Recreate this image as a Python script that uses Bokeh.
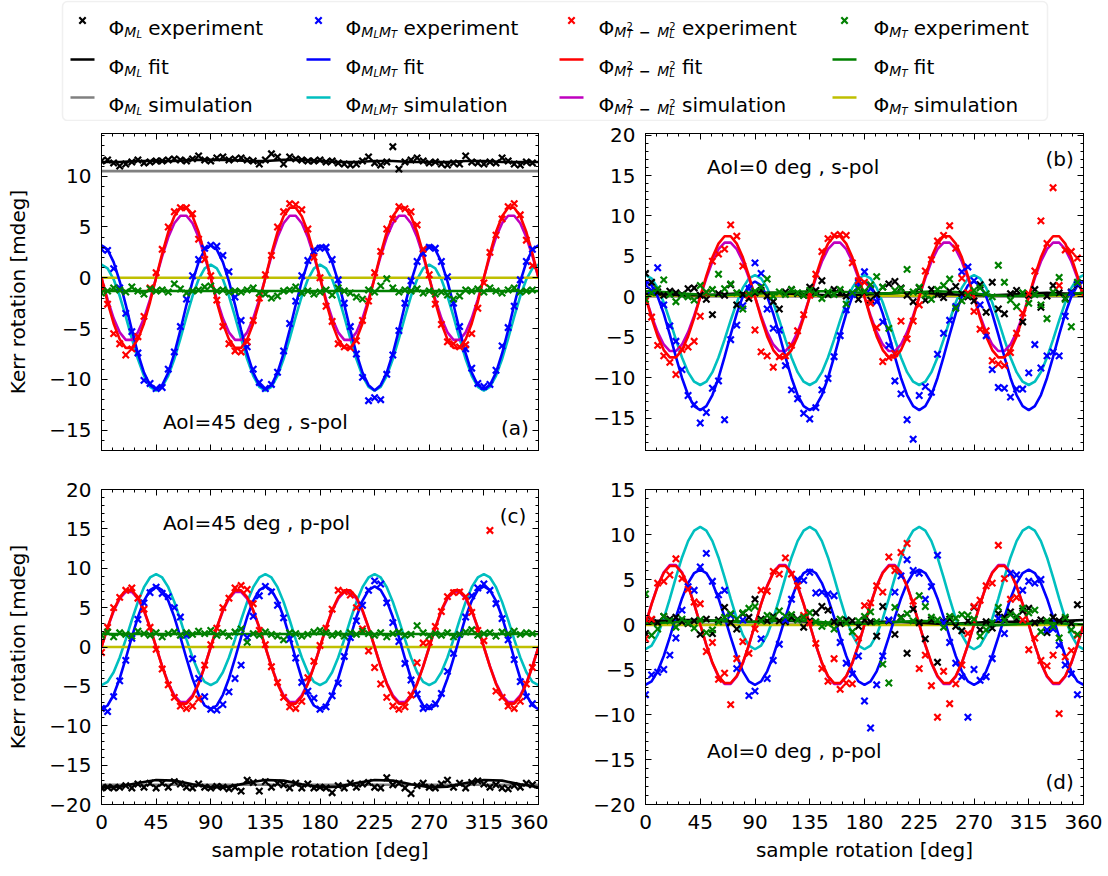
from bokeh.plotting import figure
from bokeh.models import Range1d, LinearAxis, FixedTicker, Label, ColumnDataSource, BoxAnnotation
from bokeh.layouts import column, row
from bokeh.embed import file_html
from bokeh.resources import INLINE
from bokeh.core.properties import field, value

FONT = "DejaVu Sans"

# ---------------- data ----------------
ANG_EXP = list(range(0, 360, 5))      # measured sample rotations
ANG_FIT = list(range(0, 365, 5))      # curve sampling
ANG_COARSE = list(range(0, 375, 15))  # slowly varying curves
ANG_FLAT = [0, 360]

SERIES = ["ML", "MLMT", "M2", "MT"]
EXP_COLORS = ["#000000", "#0000ff", "#ff0000", "#008000"]
FIT_COLORS = ["#000000", "#0000ff", "#ff0000", "#008000"]
SIM_COLORS = ["#808080", "#00bfbf", "#bf00bf", "#bfbf00"]

# ---- panel (a): AoI=45 deg, s-pol ----
A_ML_EXP = [11.5, 11.6, 11.3, 11.0, 11.2, 11.4, 11.6, 11.3, 11.4, 11.5, 11.5, 11.6, 11.7, 11.6, 11.5, 11.7, 12.0, 11.6,
            11.5, 11.8, 11.9, 11.6, 11.7, 11.8, 11.6, 11.5, 11.2, 11.6, 12.2, 11.9, 11.2, 11.9, 11.7, 11.6, 11.5, 11.5,
            11.6, 11.4, 11.5, 11.3, 11.2, 11.1, 11.2, 11.5, 11.9, 11.3, 11.1, 11.4, 12.9, 10.7, 11.4, 11.6, 11.8, 11.5,
            11.3, 11.4, 11.2, 11.1, 11.3, 11.2, 12.0, 11.4, 11.3, 11.2, 11.4, 11.3, 11.8, 11.5, 11.2, 11.1, 11.4, 11.3]
A_MLMT_EXP = [2.8, 2.7, 0.9, -1.0, -3.5, -5.3, -7.4, -10.1, -10.4, -10.9, -10.8, -9.0, -7.3, -4.8, -2.1, 0.2, 1.8, 2.9,
              3.2, 3.1, 2.2, 0.6, -1.9, -4.2, -6.8, -9.0, -10.3, -10.9, -10.5, -9.3, -7.2, -4.5, -2.3, 0.2, 1.7, 2.6,
              2.9, 3.0, 1.8, -0.2, -2.5, -4.8, -7.5, -9.8, -12.1, -11.8, -12.0, -9.5, -7.6, -5.2, -2.5, -0.3, 1.6, 2.4,
              3.0, 2.9, 1.6, 0.1, -2.5, -4.8, -7.0, -8.9, -10.4, -10.7, -10.5, -9.1, -6.7, -4.9, -2.8, -0.2, 1.6, 2.8]
A_M2_EXP = [-1.0, -2.6, -5.5, -6.5, -7.6, -7.0, -5.8, -3.8, -1.0, 0.5, 2.8, 5.0, 6.5, 6.9, 6.9, 6.3, 3.8, 1.8,
            0.2, -2.2, -4.8, -6.5, -7.2, -7.3, -6.3, -4.2, -2.0, 0.3, 2.2, 5.0, 6.5, 7.3, 7.2, 6.7, 4.8, 2.0,
            0.0, -2.8, -4.3, -6.5, -6.8, -6.9, -6.2, -4.2, -2.3, 0.5, 2.6, 4.8, 5.8, 7.0, 6.8, 6.5, 5.2, 2.8,
            0.3, -2.6, -4.6, -6.3, -6.5, -6.8, -6.6, -5.5, -3.0, -0.5, 2.5, 4.2, 5.8, 7.0, 7.3, 6.2, 3.7, 1.2]
A_MT_EXP = [-1.5, -1.3, -1.0, -1.2, -1.4, -0.9, -1.3, -1.6, -1.1, -1.3, -1.2, -1.4, -0.6, -1.1, -1.5, -1.3, -1.2, -0.9,
            -0.8, -1.3, -1.2, -1.4, -1.3, -1.4, -1.2, -1.0, -1.5, -1.6, -2.0, -1.8, -1.3, -1.2, -0.9, -1.5, -1.3, -1.6,
            -1.4, -1.2, -1.7, -1.0, -1.3, -1.5, -1.9, -2.1, -1.2, -1.4, -0.8, -0.1, -1.0, -1.4, -1.2, -1.3, -1.1, -1.5,
            -1.3, -1.6, -1.4, -1.7, -2.1, -1.8, -1.2, -1.3, -1.1, -1.4, -1.0, -1.3, -1.5, -1.2, -1.0, -1.4, -1.3, -1.2]
A_ML_FIT = [11.4, 11.4, 11.5, 11.5, 11.5, 11.6, 11.6, 11.6, 11.5, 11.5, 11.6, 11.6, 11.5,
            11.4, 11.4, 11.5, 11.5, 11.4, 11.4, 11.4, 11.5, 11.5, 11.4, 11.4, 11.4]
A_ML_SIM = [10.5, 10.5]
A_MLMT_FIT = [3.2, 2.77, 1.54, -0.35, -2.66, -5.14, -7.45, -9.34, -10.57, -11.0, -10.57, -9.34, -7.45, -5.14, -2.66, -0.35, 1.54, 2.77,
              3.2, 2.77, 1.54, -0.35, -2.66, -5.14, -7.45, -9.34, -10.57, -11.0, -10.57, -9.34, -7.45, -5.14, -2.66, -0.35, 1.54, 2.77,
              3.2, 2.77, 1.54, -0.35, -2.66, -5.14, -7.45, -9.34, -10.57, -11.1, -10.57, -9.34, -7.45, -5.14, -2.66, -0.35, 1.54, 2.77,
              3.2, 2.77, 1.54, -0.35, -2.66, -5.14, -7.45, -9.34, -10.57, -11.0, -10.57, -9.34, -7.45, -5.14, -2.66, -0.35, 1.54, 2.77,
              3.2]
A_MLMT_SIM = [1.3, 0.93, -0.15, -1.8, -3.82, -5.98, -8.0, -9.65, -10.73, -11.1, -10.73, -9.65, -8.0, -5.98, -3.82, -1.8, -0.15, 0.93,
              1.3, 0.93, -0.15, -1.8, -3.82, -5.98, -8.0, -9.65, -10.73, -11.1, -10.73, -9.65, -8.0, -5.98, -3.82, -1.8, -0.15, 0.93,
              1.3, 0.93, -0.15, -1.8, -3.82, -5.98, -8.0, -9.65, -10.73, -11.1, -10.73, -9.65, -8.0, -5.98, -3.82, -1.8, -0.15, 0.93,
              1.3, 0.93, -0.15, -1.8, -3.82, -5.98, -8.0, -9.65, -10.73, -11.1, -10.73, -9.65, -8.0, -5.98, -3.82, -1.8, -0.15, 0.93,
              1.3]
A_M2_FIT = [0.0, -2.39, -4.5, -6.06, -6.9, -6.9, -6.06, -4.5, -2.39, 0.0, 2.39, 4.5, 6.06, 6.9, 6.9, 6.06, 4.5, 2.39,
            0.0, -2.39, -4.5, -6.06, -6.9, -6.9, -6.06, -4.5, -2.39, 0.0, 2.39, 4.5, 6.06, 6.9, 6.9, 6.06, 4.5, 2.39,
            0.0, -2.39, -4.5, -6.06, -6.9, -6.9, -6.06, -4.5, -2.39, 0.0, 2.39, 4.5, 6.06, 6.9, 6.9, 6.06, 4.5, 2.39,
            0.0, -2.39, -4.5, -6.06, -6.9, -6.9, -6.06, -4.5, -2.39, 0.0, 2.39, 4.5, 6.06, 6.9, 6.9, 6.06, 4.5, 2.39,
            0.0]
A_M2_SIM = [0.0, -2.12, -3.99, -5.37, -6.11, -6.11, -5.37, -3.99, -2.12, 0.0, 2.12, 3.99, 5.37, 6.11, 6.11, 5.37, 3.99, 2.12,
            0.0, -2.12, -3.99, -5.37, -6.11, -6.11, -5.37, -3.99, -2.12, 0.0, 2.12, 3.99, 5.37, 6.11, 6.11, 5.37, 3.99, 2.12,
            0.0, -2.12, -3.99, -5.37, -6.11, -6.11, -5.37, -3.99, -2.12, 0.0, 2.12, 3.99, 5.37, 6.11, 6.11, 5.37, 3.99, 2.12,
            0.0, -2.12, -3.99, -5.37, -6.11, -6.11, -5.37, -3.99, -2.12, 0.0, 2.12, 3.99, 5.37, 6.11, 6.11, 5.37, 3.99, 2.12,
            0.0]
A_MT_FIT = [-1.3, -1.3]
A_MT_SIM = [0.0, 0.0]

# ---- panel (b): AoI=0 deg, s-pol ----
B_ML_EXP = [2.9, 1.8, 0.6, 0.2, 0.7, 0.5, 0.3, 1.0, 1.1, 0.2, -0.3, -2.2, 0.4, 0.2, 1.5, -1.0, 0.3, -0.2,
            0.5, 0.8, 0.1, -0.6, -1.5, 0.6, 0.9, 0.4, 0.2, 1.2, 0.8, 2.0, 0.3, 0.9, 0.5, 0.1, 0.4, -0.3,
            0.6, -0.4, 0.3, 1.2, 1.6, 1.9, 1.1, 0.2, -0.6, 1.1, -0.4, 0.9, 0.3, -0.1, 0.7, 1.3, 0.4, 0.0,
            -0.5, 1.5, -1.9, 1.8, -1.5, -2.1, 0.4, 0.8, -3.1, 0.2, 0.9, -1.3, 0.1, 1.4, 0.5, -0.2, 0.6, 1.5]
B_MLMT_EXP = [1.5, 0.8, 3.6, -1.0, -3.6, -5.5, -9.0, -12.2, -13.3, -15.6, -14.3, -11.3, -10.4, -15.2, -5.3, -3.5, -1.1, 1.0,
              4.2, 2.9, -1.5, -3.9, -4.1, -8.5, -11.5, -12.6, -14.4, -15.1, -13.7, -11.5, -10.1, -7.4, -4.8, -1.6, 0.3, 1.8,
              3.1, 1.0, -0.6, -3.1, -6.0, -10.4, -12.0, -15.2, -17.6, -12.2, -11.1, -11.8, -7.1, -4.5, -2.9, -1.2, 3.1, 3.7,
              2.0, -1.0, -4.8, -9.0, -11.2, -11.3, -12.4, -11.4, -11.4, -9.4, -5.9, -8.8, -7.3, -6.8, -7.3, -2.4, 0.5, 1.6]
B_M2_EXP = [-0.5, -2.5, -6.0, -7.3, -8.1, -9.6, -6.5, -6.2, -5.5, -2.4, 0.5, 4.4, 5.3, 5.9, 8.9, 7.5, 3.8, 0.2,
            -4.1, -6.8, -7.3, -8.7, -7.4, -7.3, -6.0, -4.2, -2.2, 0.2, 2.8, 5.6, 7.2, 7.6, 7.7, 7.6, 4.2, 2.0,
            1.8, -0.8, -3.8, -8.0, -7.5, -7.0, -3.0, -5.2, -3.0, -1.0, 3.2, 4.6, 6.9, 7.6, 8.8, 6.0, 2.3, 0.5,
            -1.8, -4.0, -4.2, -7.9, -8.3, -8.5, -6.9, -4.5, -2.0, 0.4, 3.2, 9.4, 6.6, 13.5, 1.4, 5.8, 5.6, 4.8]
B_MT_EXP = [-0.3, 0.5, 1.0, 2.1, 0.3, -0.6, 0.2, 0.0, -0.4, 1.4, 0.6, 0.9, 2.8, 1.0, 1.6, 0.5, -1.5, 0.4,
            0.7, 1.2, 2.2, 0.1, 0.6, 0.3, 0.9, 0.5, 0.2, 0.8, 0.4, -0.2, 0.6, 0.3, 0.9, -0.9, 0.5, 1.0,
            0.7, 1.5, 2.5, 1.2, -3.9, 0.8, 1.0, 3.4, 0.6, 1.2, 0.2, -0.3, 0.9, 1.4, 2.2, -1.4, -0.5, 0.2,
            0.8, 1.1, 0.4, 0.0, 3.9, 1.8, -0.4, -1.2, 0.5, -0.8, 0.3, -1.0, -2.7, 0.6, 2.4, -0.3, -3.7, 1.8]
B_ML_FIT = [0.4, 0.3, 0.2, 0.2, 0.3, 0.4, 0.5, 0.5, 0.4, 0.3, 0.2, 0.2, 0.3,
            0.4, 0.5, 0.5, 0.4, 0.3, 0.2, 0.2, 0.3, 0.4, 0.5, 0.4, 0.4]
B_ML_SIM = [0.05, 0.05]
B_MLMT_FIT = [1.9, 1.42, 0.04, -2.08, -4.67, -7.43, -10.03, -12.14, -13.52, -14.0, -13.52, -12.14, -10.03, -7.43, -4.67, -2.08, 0.04, 1.42,
              1.9, 1.42, 0.04, -2.08, -4.67, -7.43, -10.03, -12.14, -13.52, -14.0, -13.52, -12.14, -10.03, -7.43, -4.67, -2.08, 0.04, 1.42,
              1.9, 1.42, 0.04, -2.08, -4.67, -7.43, -10.03, -12.14, -13.52, -14.0, -13.52, -12.14, -10.03, -7.43, -4.67, -2.08, 0.04, 1.42,
              1.9, 1.42, 0.04, -2.08, -4.67, -7.43, -10.03, -12.14, -13.52, -14.0, -13.52, -12.14, -10.03, -7.43, -4.67, -2.08, 0.04, 1.42,
              1.9]
B_MLMT_SIM = [2.7, 2.29, 1.11, -0.7, -2.92, -5.28, -7.5, -9.31, -10.49, -10.9, -10.49, -9.31, -7.5, -5.28, -2.92, -0.7, 1.11, 2.29,
              2.7, 2.29, 1.11, -0.7, -2.92, -5.28, -7.5, -9.31, -10.49, -10.9, -10.49, -9.31, -7.5, -5.28, -2.92, -0.7, 1.11, 2.29,
              2.7, 2.29, 1.11, -0.7, -2.92, -5.28, -7.5, -9.31, -10.49, -10.9, -10.49, -9.31, -7.5, -5.28, -2.92, -0.7, 1.11, 2.29,
              2.7, 2.29, 1.11, -0.7, -2.92, -5.28, -7.5, -9.31, -10.49, -10.9, -10.49, -9.31, -7.5, -5.28, -2.92, -0.7, 1.11, 2.29,
              2.7]
B_M2_FIT = [0.0, -2.6, -4.89, -6.58, -7.49, -7.49, -6.58, -4.89, -2.6, 0.0, 2.6, 4.89, 6.58, 7.49, 7.49, 6.58, 4.89, 2.6,
            0.0, -2.6, -4.89, -6.58, -7.49, -7.49, -6.58, -4.89, -2.6, 0.0, 2.6, 4.89, 6.58, 7.49, 7.49, 6.58, 4.89, 2.6,
            0.0, -2.6, -4.89, -6.58, -7.49, -7.49, -6.58, -4.89, -2.6, 0.0, 2.6, 4.89, 6.58, 7.49, 7.49, 6.58, 4.89, 2.6,
            0.0, -2.6, -4.89, -6.58, -7.49, -7.49, -6.58, -4.89, -2.6, 0.0, 2.6, 4.89, 6.58, 7.49, 7.49, 6.58, 4.89, 2.6,
            0.0]
B_M2_SIM = [0.0, -2.33, -4.37, -5.89, -6.7, -6.7, -5.89, -4.37, -2.33, 0.0, 2.33, 4.37, 5.89, 6.7, 6.7, 5.89, 4.37, 2.33,
            0.0, -2.33, -4.37, -5.89, -6.7, -6.7, -5.89, -4.37, -2.33, 0.0, 2.33, 4.37, 5.89, 6.7, 6.7, 5.89, 4.37, 2.33,
            0.0, -2.33, -4.37, -5.89, -6.7, -6.7, -5.89, -4.37, -2.33, 0.0, 2.33, 4.37, 5.89, 6.7, 6.7, 5.89, 4.37, 2.33,
            0.0, -2.33, -4.37, -5.89, -6.7, -6.7, -5.89, -4.37, -2.33, 0.0, 2.33, 4.37, 5.89, 6.7, 6.7, 5.89, 4.37, 2.33,
            0.0]
B_MT_FIT = [0.7, 0.6, 0.4, 0.3, 0.2, 0.3, 0.4, 0.5, 0.6, 0.7, 0.7, 0.6, 0.5,
            0.4, 0.5, 0.6, 0.7, 0.6, 0.4, 0.2, 0.1, 0.1, 0.2, 0.3, 0.5]
B_MT_SIM = [0.15, 0.15]

# ---- panel (c): AoI=45 deg, p-pol ----
C_ML_EXP = [-17.9, -17.8, -17.9, -17.8, -17.6, -17.9, -17.4, -17.8, -17.3, -17.9, -17.3, -17.8, -17.1, -17.4, -17.8, -17.9, -17.4, -17.8,
            -17.9, -17.7, -17.8, -18.0, -17.8, -18.3, -16.9, -17.2, -18.3, -17.1, -17.8, -17.3, -17.5, -17.9, -17.3, -17.9, -17.4, -17.9,
            -17.8, -17.9, -18.5, -17.6, -17.9, -17.3, -17.8, -17.4, -17.2, -17.8, -17.9, -16.6, -17.5, -17.3, -17.9, -18.6, -17.6, -17.3,
            -17.8, -17.9, -17.4, -16.9, -17.8, -17.3, -17.9, -17.2, -17.0, -17.4, -17.8, -17.5, -17.9, -18.0, -17.6, -17.8, -17.3, -17.5]
C_MLMT_EXP = [-7.8, -8.2, -6.3, -4.3, -1.7, 1.1, 3.5, 5.6, 6.9, 7.6, 6.8, 6.4, 5.0, 3.8, 1.5, -1.5, -4.0, -6.3,
              -7.9, -8.0, -7.3, -5.7, -4.0, -2.3, 1.2, 3.9, 6.5, 7.7, 7.0, 5.3, 3.7, 1.0, -1.4, -4.5, -5.6, -6.5,
              -7.9, -7.6, -6.2, -4.6, -1.2, 1.2, 3.3, 5.3, 7.2, 8.4, 8.0, 5.6, 3.1, 0.7, -2.1, -4.2, -6.0, -7.8,
              -7.6, -7.2, -5.9, -3.1, -0.8, 1.6, 3.8, 6.5, 7.5, 8.0, 7.2, 5.5, 3.6, 0.9, -1.6, -4.4, -6.3, -7.2]
C_M2_EXP = [-0.7, 2.5, 5.0, 6.3, 7.2, 7.5, 6.2, 4.8, 2.5, -0.3, -2.8, -4.8, -6.4, -7.5, -7.8, -7.5, -6.6, -2.3,
            0.3, 2.4, 5.0, 6.2, 7.5, 7.8, 7.3, 5.5, 2.1, 0.3, -2.5, -4.5, -6.4, -7.6, -7.8, -6.9, -3.9, -1.8,
            0.2, 2.4, 4.8, 7.2, 7.0, 6.6, 5.0, 2.3, -0.5, -2.6, -4.7, -6.4, -7.5, -7.9, -7.6, -6.1, -2.0, 0.5,
            0.6, 2.6, 4.5, 6.4, 6.9, 7.0, 6.4, 4.4, 2.1, 0.8, 14.8, -5.6, -6.4, -7.5, -7.8, -6.9, -4.7, -2.6]
C_MT_EXP = [1.5, 1.9, 1.3, 1.8, 1.6, 1.4, 2.0, 1.7, 1.5, 1.8, 1.3, 1.7, 1.9, 1.5, 1.8, 1.6, 2.0, 1.7,
            2.1, 1.5, 1.8, 1.4, 1.9, 2.3, 0.6, 1.7, 1.5, 1.9, 1.6, 1.4, 0.9, 1.8, 1.7, 1.4, 1.6, 1.9,
            2.1, 1.8, 1.5, 1.7, 1.4, 1.8, 1.6, 2.0, 1.7, 1.5, 1.8, 1.3, 1.7, 1.9, 1.5, 1.6, 2.7, 1.8,
            1.4, 1.7, 1.5, 1.8, 1.3, 1.6, 1.9, 2.2, 1.5, 1.7, 1.8, 1.4, 1.9, 1.7, 2.0, 1.6, 1.8, 1.7]
C_ML_FIT = [-17.82, -17.73, -17.26, -16.88, -16.97, -17.44, -17.82, -17.73, -17.26, -16.88, -16.97, -17.44,
            -17.82, -17.73, -17.26, -16.88, -16.97, -17.44, -17.82, -17.73, -17.26, -16.88, -16.97, -17.44, -17.82]
C_ML_SIM = [-17.5, -17.5]
C_MLMT_FIT = [-7.9, -7.43, -6.07, -4.0, -1.46, 1.26, 3.8, 5.87, 7.23, 7.7, 7.23, 5.87, 3.8, 1.26, -1.46, -4.0, -6.07, -7.43,
              -7.9, -7.43, -6.07, -4.0, -1.46, 1.26, 3.8, 5.87, 7.23, 7.7, 7.23, 5.87, 3.8, 1.26, -1.46, -4.0, -6.07, -7.43,
              -7.9, -7.43, -6.07, -4.0, -1.46, 1.26, 3.8, 5.87, 7.23, 7.7, 7.23, 5.87, 3.8, 1.26, -1.46, -4.0, -6.07, -7.43,
              -7.9, -7.43, -6.07, -4.0, -1.46, 1.26, 3.8, 5.87, 7.23, 7.7, 7.23, 5.87, 3.8, 1.26, -1.46, -4.0, -6.07, -7.43,
              -7.9]
C_MLMT_SIM = [-4.85, -4.43, -3.2, -1.33, 0.97, 3.43, 5.73, 7.6, 8.83, 9.25, 8.83, 7.6, 5.73, 3.43, 0.97, -1.33, -3.2, -4.43,
              -4.85, -4.43, -3.2, -1.33, 0.97, 3.43, 5.73, 7.6, 8.83, 9.25, 8.83, 7.6, 5.73, 3.43, 0.97, -1.33, -3.2, -4.43,
              -4.85, -4.43, -3.2, -1.33, 0.97, 3.43, 5.73, 7.6, 8.83, 9.25, 8.83, 7.6, 5.73, 3.43, 0.97, -1.33, -3.2, -4.43,
              -4.85, -4.43, -3.2, -1.33, 0.97, 3.43, 5.73, 7.6, 8.83, 9.25, 8.83, 7.6, 5.73, 3.43, 0.97, -1.33, -3.2, -4.43,
              -4.85]
C_M2_FIT = [0.0, 2.5, 4.69, 6.32, 7.19, 7.19, 6.32, 4.69, 2.5, 0.0, -2.5, -4.69, -6.32, -7.19, -7.19, -6.32, -4.69, -2.5,
            0.0, 2.5, 4.69, 6.32, 7.19, 7.19, 6.32, 4.69, 2.5, 0.0, -2.5, -4.69, -6.32, -7.19, -7.19, -6.32, -4.69, -2.5,
            0.0, 2.5, 4.69, 6.32, 7.19, 7.19, 6.32, 4.69, 2.5, 0.0, -2.5, -4.69, -6.32, -7.19, -7.19, -6.32, -4.69, -2.5,
            0.0, 2.5, 4.69, 6.32, 7.19, 7.19, 6.32, 4.69, 2.5, 0.0, -2.5, -4.69, -6.32, -7.19, -7.19, -6.32, -4.69, -2.5,
            0.0]
C_M2_SIM = [0.0, 2.43, 4.57, 6.15, 6.99, 6.99, 6.15, 4.57, 2.43, 0.0, -2.43, -4.57, -6.15, -6.99, -6.99, -6.15, -4.57, -2.43,
            0.0, 2.43, 4.57, 6.15, 6.99, 6.99, 6.15, 4.57, 2.43, 0.0, -2.43, -4.57, -6.15, -6.99, -6.99, -6.15, -4.57, -2.43,
            0.0, 2.43, 4.57, 6.15, 6.99, 6.99, 6.15, 4.57, 2.43, 0.0, -2.43, -4.57, -6.15, -6.99, -6.99, -6.15, -4.57, -2.43,
            0.0, 2.43, 4.57, 6.15, 6.99, 6.99, 6.15, 4.57, 2.43, 0.0, -2.43, -4.57, -6.15, -6.99, -6.99, -6.15, -4.57, -2.43,
            0.0]
C_MT_FIT = [1.65, 1.65]
C_MT_SIM = [0.0, 0.0]

# ---- panel (d): AoI=0 deg, p-pol ----
D_ML_EXP = [-1.0, 0.5, 0.2, 0.9, 0.6, 0.8, 0.3, 0.1, 0.4, -1.1, 0.6, -1.0, 0.5, 1.9, 0.2, -0.5, 1.2, 0.8,
            2.8, 0.6, 0.4, 0.9, 0.4, 0.3, 0.8, 0.6, -0.3, 0.4, 1.3, 2.0, 1.6, 0.3, 0.1, 0.5, 0.4, -0.2,
            0.5, 0.3, -1.3, 2.0, 0.4, -1.1, 0.8, -3.2, 1.7, 0.2, -1.6, 0.5, -4.2, 0.3, 0.6, -0.2, -0.7, 0.4,
            1.9, -0.6, 0.3, -0.4, 1.2, 0.8, 1.4, 0.6, 1.5, 1.8, 0.2, 0.5, -0.9, 0.8, 0.4, 0.6, 0.1, 2.2]
D_MLMT_EXP = [-7.8, -5.6, -5.3, -5.0, -3.4, -1.5, 1.6, 4.2, 3.8, 6.4, 7.9, 4.8, 3.3, 3.8, 1.0, -4.9, 0.5, -7.9,
              -7.4, -1.6, -6.0, -4.0, -2.2, 0.5, 2.8, 5.0, 4.9, 5.8, 3.5, 3.6, 3.4, 3.2, -2.0, -4.3, -5.5, -3.5,
              -8.5, -11.5, -6.7, -3.5, 0.5, 3.6, 5.4, 7.2, 6.0, 5.7, 2.8, 4.2, 7.7, 0.2, -2.0, -4.3, -5.8, -10.3,
              -5.0, -6.2, -5.8, -3.8, 0.7, -1.0, 5.7, 5.5, 3.8, 4.8, 4.6, 5.0, -0.6, -0.5, -2.3, -4.5, -5.5, -7.8]
D_M2_EXP = [-1.6, 0.6, 4.6, 4.8, 5.5, 7.3, 5.1, 3.9, 2.5, 2.3, -3.0, -2.0, -6.1, -5.4, -8.9, -3.8, -1.9, -3.2,
            -0.5, 3.8, 3.7, 5.9, 5.6, 7.4, 5.6, 4.3, 1.0, 0.2, -2.1, -4.9, -6.3, -3.8, -7.2, -6.5, -6.6, -1.5,
            2.1, 2.4, 4.3, 3.6, 7.5, 6.0, 8.0, 9.0, 2.6, -4.9, -3.4, -6.8, -10.3, -5.2, -8.8, -6.6, -4.5, -1.0,
            2.0, 2.7, 4.3, 4.6, 8.8, 5.1, 2.8, 3.0, 0.5, -2.8, -1.5, -4.0, -4.6, -3.4, -9.9, -3.6, -2.9, -1.2]
D_MT_EXP = [3.4, -1.2, -0.5, 0.9, 0.4, -0.3, 0.6, 0.2, -0.4, 0.5, -0.9, -0.6, 0.3, 0.8, 1.2, 0.6, 1.3, 1.8,
            2.0, 0.4, 1.0, 0.7, 1.5, 0.9, 1.1, 0.5, 0.8, 1.3, 0.3, -0.2, 0.1, -0.5, 0.6, 0.2, -0.8, 0.4,
            0.9, 1.4, 0.3, -4.4, -6.5, 1.9, 0.7, 1.2, 0.4, 3.2, 2.0, 0.8, 0.5, -0.3, 0.9, 0.7, 1.1, 1.0,
            0.6, -1.3, -0.6, 0.2, 1.9, 0.5, 1.1, 0.9, 1.8, 1.3, 1.6, -0.8, 0.4, -0.2, -1.5, 0.8, -0.6, -1.1]
D_ML_FIT = [0.4, 0.4, 0.5, 0.5, 0.4, 0.3, 0.3, 0.4, 0.4, 0.3, 0.2, 0.2, 0.2,
            0.3, 0.3, 0.2, 0.1, 0.1, 0.2, 0.3, 0.3, 0.3, 0.4, 0.4, 0.5]
D_ML_SIM = [0.0, 0.0]
D_MLMT_FIT = [-6.7, -6.32, -5.2, -3.5, -1.41, 0.81, 2.9, 4.6, 5.72, 6.1, 5.72, 4.6, 2.9, 0.81, -1.41, -3.5, -5.2, -6.32,
              -6.7, -6.32, -5.2, -3.5, -1.41, 0.81, 2.9, 4.6, 5.72, 6.1, 5.72, 4.6, 2.9, 0.81, -1.41, -3.5, -5.2, -6.32,
              -6.7, -6.32, -5.2, -3.5, -1.41, 0.81, 2.9, 4.6, 5.72, 6.1, 5.72, 4.6, 2.9, 0.81, -1.41, -3.5, -5.2, -6.32,
              -6.7, -6.32, -5.2, -3.5, -1.41, 0.81, 2.9, 4.6, 5.72, 6.1, 5.72, 4.6, 2.9, 0.81, -1.41, -3.5, -5.2, -6.32,
              -6.7]
D_MLMT_SIM = [-2.75, -2.34, -1.16, 0.65, 2.87, 5.23, 7.45, 9.26, 10.44, 10.85, 10.44, 9.26, 7.45, 5.23, 2.87, 0.65, -1.16, -2.34,
              -2.75, -2.34, -1.16, 0.65, 2.87, 5.23, 7.45, 9.26, 10.44, 10.85, 10.44, 9.26, 7.45, 5.23, 2.87, 0.65, -1.16, -2.34,
              -2.75, -2.34, -1.16, 0.65, 2.87, 5.23, 7.45, 9.26, 10.44, 10.85, 10.44, 9.26, 7.45, 5.23, 2.87, 0.65, -1.16, -2.34,
              -2.75, -2.34, -1.16, 0.65, 2.87, 5.23, 7.45, 9.26, 10.44, 10.85, 10.44, 9.26, 7.45, 5.23, 2.87, 0.65, -1.16, -2.34,
              -2.75]
D_M2_FIT = [0.0, 2.26, 4.24, 5.72, 6.5, 6.5, 5.72, 4.24, 2.26, 0.0, -2.26, -4.24, -5.72, -6.5, -6.5, -5.72, -4.24, -2.26,
            0.0, 2.26, 4.24, 5.72, 6.5, 6.5, 5.72, 4.24, 2.26, 0.0, -2.26, -4.24, -5.72, -6.5, -6.5, -5.72, -4.24, -2.26,
            0.0, 2.26, 4.24, 5.72, 6.5, 6.5, 5.72, 4.24, 2.26, 0.0, -2.26, -4.24, -5.72, -6.5, -6.5, -5.72, -4.24, -2.26,
            0.0, 2.26, 4.24, 5.72, 6.5, 6.5, 5.72, 4.24, 2.26, 0.0, -2.26, -4.24, -5.72, -6.5, -6.5, -5.72, -4.24, -2.26,
            0.0]
D_M2_SIM = [0.0, 2.29, 4.31, 5.8, 6.6, 6.6, 5.8, 4.31, 2.29, 0.0, -2.29, -4.31, -5.8, -6.6, -6.6, -5.8, -4.31, -2.29,
            0.0, 2.29, 4.31, 5.8, 6.6, 6.6, 5.8, 4.31, 2.29, 0.0, -2.29, -4.31, -5.8, -6.6, -6.6, -5.8, -4.31, -2.29,
            0.0, 2.29, 4.31, 5.8, 6.6, 6.6, 5.8, 4.31, 2.29, 0.0, -2.29, -4.31, -5.8, -6.6, -6.6, -5.8, -4.31, -2.29,
            0.0, 2.29, 4.31, 5.8, 6.6, 6.6, 5.8, 4.31, 2.29, 0.0, -2.29, -4.31, -5.8, -6.6, -6.6, -5.8, -4.31, -2.29,
            0.0]
D_MT_FIT = [0.1, 0.2, 0.3, 0.4, 0.4, 0.3, 0.3, 0.4, 0.5, 0.4, 0.2, 0.1, 0.1,
            0.2, 0.3, 0.4, 0.3, 0.1, 0.0, -0.1, 0.0, 0.1, 0.2, 0.1, 0.0]
D_MT_SIM = [-0.05, -0.05]

X_TICKS = [0, 45, 90, 135, 180, 225, 270, 315, 360]
X_LABEL = "sample rotation [deg]"
Y_LABEL = "Kerr rotation [mdeg]"

# ---------------- helpers ----------------
def style_axis(ax, ticks, minor, show_labels):
    ax.ticker = FixedTicker(ticks=ticks, minor_ticks=minor)
    ax.major_tick_in = 6
    ax.major_tick_out = 0
    ax.minor_tick_in = 3
    ax.minor_tick_out = 0
    ax.axis_line_color = "black"
    ax.major_tick_line_color = "black"
    ax.minor_tick_line_color = "black"
    ax.major_label_text_font = FONT
    ax.axis_label_text_font = FONT
    ax.axis_label_text_font_style = "normal"
    ax.axis_label_text_font_size = "20px"
    ax.axis_label_text_color = "black"
    if show_labels:
        ax.major_label_overrides = {t: str(t).replace("-", "\u2212") for t in ticks}
        ax.major_label_text_font_size = "20px"
        ax.major_label_text_color = "black"
        ax.major_label_standoff = 10
    else:
        # tick marks only: labels are neither drawn nor given space
        ax.major_label_text_font_size = "0px"
        ax.major_label_text_color = None
        ax.major_label_standoff = 0


def make_panel(frame_w, frame_h, borders, y_rng, y_ticks, show_x, show_ylab,
               exps, fits, sims, note, note_pos, tag, tag_pos):
    bl, br, bt, bb = borders
    p = figure(frame_width=frame_w, frame_height=frame_h,
               min_border_left=bl, min_border_right=br, min_border_top=bt, min_border_bottom=bb,
               x_range=Range1d(0, 360), y_range=Range1d(*y_rng),
               output_backend="svg", toolbar_location=None,
               background_fill_color="white", border_fill_color="white")
    p.title.visible = False
    p.grid.visible = False
    p.outline_line_color = "black"
    p.outline_line_width = 1
    p.add_layout(LinearAxis(), "above")
    p.add_layout(LinearAxis(), "right")
    x_minor = list(range(0, 361, 9))
    y_minor = list(range(int(y_rng[0]) - 1, int(y_rng[1]) + 2))
    style_axis(p.below[0], X_TICKS, x_minor, show_x)
    style_axis(p.above[0], X_TICKS, x_minor, False)
    style_axis(p.left[0], y_ticks, y_minor, True)
    style_axis(p.right[0], y_ticks, y_minor, False)
    if show_x:
        p.below[0].axis_label = X_LABEL
        p.below[0].axis_label_standoff = 6
    if show_ylab:
        p.left[0].axis_label = Y_LABEL
        p.left[0].axis_label_standoff = 16

    for (xs, ys), c in zip(sims, SIM_COLORS):
        p.line(xs, ys, line_color=c, line_width=2.6)
    for (xs, ys), c in zip(fits, FIT_COLORS):
        p.line(xs, ys, line_color=c, line_width=2.6)
    for ys, c in zip(exps, EXP_COLORS):
        p.scatter(ANG_EXP, ys, marker="x", size=9, line_color=c, line_width=2.2)

    p.add_layout(Label(x=note_pos[0], y=note_pos[1], text=note, text_font=FONT,
                       text_font_size="20px", text_baseline="middle", text_align="left",
                       text_color="black"))
    p.add_layout(Label(x=tag_pos[0], y=tag_pos[1], text=tag, text_font=FONT,
                       text_font_size="20px", text_baseline="middle", text_align="right",
                       text_color="black"))
    return p


pa = make_panel(437, 317, (101, 10, 12, 20), (-17, 14.2), [-15, -10, -5, 0, 5, 10], False, True,
                [A_ML_EXP, A_MLMT_EXP, A_M2_EXP, A_MT_EXP],
                [(ANG_COARSE, A_ML_FIT), (ANG_FIT, A_MLMT_FIT), (ANG_FIT, A_M2_FIT), (ANG_FLAT, A_MT_FIT)],
                [(ANG_FLAT, A_ML_SIM), (ANG_FIT, A_MLMT_SIM), (ANG_FIT, A_M2_SIM), (ANG_FLAT, A_MT_SIM)],
                "AoI=45 deg , s-pol", (50.6, -14.2), "(a)", (352, -14.8))
pb = make_panel(438, 317, (97, 25, 12, 20), (-19, 20.2), [-15, -10, -5, 0, 5, 10, 15, 20], False, False,
                [B_ML_EXP, B_MLMT_EXP, B_M2_EXP, B_MT_EXP],
                [(ANG_COARSE, B_ML_FIT), (ANG_FIT, B_MLMT_FIT), (ANG_FIT, B_M2_FIT), (ANG_COARSE, B_MT_FIT)],
                [(ANG_FLAT, B_ML_SIM), (ANG_FIT, B_MLMT_SIM), (ANG_FIT, B_M2_SIM), (ANG_FLAT, B_MT_SIM)],
                "AoI=0 deg , s-pol", (50.6, 16.1), "(b)", (352, 17.1))
pc = make_panel(437, 315, (101, 10, 19, 72), (-20, 20), [-20, -15, -10, -5, 0, 5, 10, 15, 20], True, True,
                [C_ML_EXP, C_MLMT_EXP, C_M2_EXP, C_MT_EXP],
                [(ANG_COARSE, C_ML_FIT), (ANG_FIT, C_MLMT_FIT), (ANG_FIT, C_M2_FIT), (ANG_FLAT, C_MT_FIT)],
                [(ANG_FLAT, C_ML_SIM), (ANG_FIT, C_MLMT_SIM), (ANG_FIT, C_M2_SIM), (ANG_FLAT, C_MT_SIM)],
                "AoI=45 deg , p-pol", (50.6, 15.8), "(c)", (350, 16.6))
pd_ = make_panel(438, 315, (97, 25, 19, 72), (-20, 15), [-20, -15, -10, -5, 0, 5, 10, 15], True, False,
                 [D_ML_EXP, D_MLMT_EXP, D_M2_EXP, D_MT_EXP],
                 [(ANG_COARSE, D_ML_FIT), (ANG_FIT, D_MLMT_FIT), (ANG_FIT, D_M2_FIT), (ANG_COARSE, D_MT_FIT)],
                 [(ANG_FLAT, D_ML_SIM), (ANG_FIT, D_MLMT_SIM), (ANG_FIT, D_M2_SIM), (ANG_FLAT, D_MT_SIM)],
                 "AoI=0 deg , p-pol", (50.6, -14.1), "(d)", (352, -17.5))

# ---------------- legend ----------------
LH = 121
lg = figure(width=1108, height=LH, x_range=Range1d(0, 1108), y_range=Range1d(0, LH),
            output_backend="svg", toolbar_location=None, x_axis_type=None, y_axis_type=None,
            min_border=0, background_fill_color="white", border_fill_color="white")
lg.title.visible = False
lg.grid.visible = False
lg.outline_line_color = None
lg.add_layout(BoxAnnotation(left=62, right=1047, bottom=LH - 120, top=LH - 1,
                            fill_color="white", fill_alpha=1.0, line_color="#cccccc",
                            line_width=1.5, border_radius=5, level="underlay"))

CW = {"Φ": 0.790, "M": 0.863, "L": 0.557, "T": 0.611, "2": 0.636, "\u2212": 0.838, " ": 0.318,
      "e": 0.615, "x": 0.592, "p": 0.635, "r": 0.411, "i": 0.278, "m": 0.974, "n": 0.634,
      "t": 0.392, "f": 0.352, "s": 0.521, "u": 0.634, "l": 0.278, "a": 0.613, "o": 0.612}


def tw(s, size):
    return sum(CW.get(ch, 0.6) for ch in s) * size


SUBS = {
    "ML": [("M", 14, "italic", 4, True), ("L", 10, "italic", 7, True)],
    "MLMT": [("M", 14, "italic", 4, True), ("L", 10, "italic", 7, True),
             ("M", 14, "italic", 4, True), ("T", 10, "italic", 7, True)],
    "M2": [("M", 14, "italic", 4, True), ("T", 10, "italic", 7, False), ("2", 10, "normal", -2, True),
           (" ", 20, "normal", 0, True), ("\u2212", 14, "bold", 4, True), (" ", 20, "normal", 0, True),
           ("M", 14, "italic", 4, True), ("L", 10, "italic", 7, False), ("2", 10, "normal", -2, True)],
    "MT": [("M", 14, "italic", 4, True), ("T", 10, "italic", 7, True)],
}
ROW_WORDS = [" experiment", " fit", " simulation"]
COL_TEXT_X = [108, 345, 598, 873]
COL_HANDLE_X = [82, 318, 571, 844]
ROW_CENTER = [20, 59, 97]

tx, ty, tt, ts, tst = [], [], [], [], []
for ci, key in enumerate(SERIES):
    for ri, word in enumerate(ROW_WORDS):
        base = ROW_CENTER[ri] + 7
        parts = [("Φ", 20, "normal", 0, True)] + SUBS[key] + [(word, 20, "normal", 0, True)]
        x = COL_TEXT_X[ci]
        for text, size, style, dy, adv in parts:
            stripped = text.lstrip()
            if stripped:
                lead = text[:len(text) - len(stripped)]
                tx.append(x + tw(lead, size))
                ty.append(LH - (base + dy))
                tt.append(stripped)
                ts.append("%dpx" % size)
                tst.append(style)
            if adv:
                x += tw(text, size)
src = ColumnDataSource(dict(x=tx, y=ty, text=tt, fsize=ts, fstyle=tst))
lg.text(x="x", y="y", text="text", source=src, text_font_size=field("fsize"),
        text_font_style=field("fstyle"), text_baseline="alphabetic", text_align="left",
        text_color="black", text_font=value(FONT))

lg.scatter(COL_HANDLE_X, [LH - ROW_CENTER[0]] * 4, marker="x", size=9,
           line_color=EXP_COLORS, line_width=2.2)
lg.segment(x0=[x - 12 for x in COL_HANDLE_X], x1=[x + 12 for x in COL_HANDLE_X],
           y0=[LH - ROW_CENTER[1]] * 4, y1=[LH - ROW_CENTER[1]] * 4,
           line_color=FIT_COLORS, line_width=2.6)
lg.segment(x0=[x - 12 for x in COL_HANDLE_X], x1=[x + 12 for x in COL_HANDLE_X],
           y0=[LH - ROW_CENTER[2]] * 4, y1=[LH - ROW_CENTER[2]] * 4,
           line_color=SIM_COLORS, line_width=2.6)

layout = column(lg, row(pa, pb), row(pc, pd_))
open("out.html", "w").write(file_html(layout, INLINE, title="Kerr rotation"))
